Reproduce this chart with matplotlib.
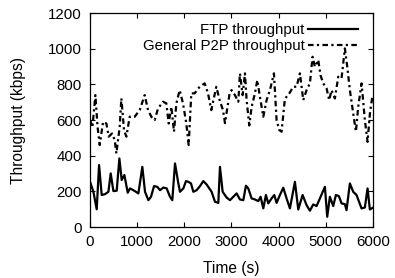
import numpy as np
import matplotlib
matplotlib.use('Agg')
import matplotlib.pyplot as plt

# FTP throughput (kbps) vs time (s)
ftp_t = [0, 71, 141, 191, 247, 318, 389, 438, 495, 565, 622, 671, 728, 799,
         848, 919, 1025, 1109, 1166, 1237, 1293, 1357, 1427, 1484, 1555, 1625,
         1696, 1745, 1802, 1873, 1908, 1979, 2035, 2085, 2141, 2191, 2261, 2332,
         2403, 2473, 2579, 2650, 2721, 2756, 2813, 2897, 2968, 3039, 3109, 3180,
         3251, 3307, 3357, 3427, 3498, 3569, 3618, 3675, 3731, 3781, 3851, 3908,
         3957, 4028, 4099, 4169, 4240, 4346, 4417, 4509, 4594, 4664, 4735, 4805,
         4876, 4982, 5031, 5088, 5159, 5215, 5279, 5336, 5406, 5441, 5512, 5583,
         5653, 5759, 5830, 5887, 5936, 5993]
ftp_v = [254, 198, 100, 348, 180, 185, 198, 301, 202, 204, 385, 264, 292, 193,
         217, 207, 189, 338, 198, 151, 170, 230, 226, 207, 222, 217,
         170, 151, 357, 245, 198, 217, 258, 254, 245, 198, 207, 230,
         258, 239, 198, 142, 136, 338, 198, 166, 151, 170, 189, 155,
         151, 232, 217, 161, 155, 146, 170, 105, 180, 133, 161, 180,
         136, 180, 221, 161, 105, 254, 99, 180, 123, 92, 127, 118,
         161, 226, 58, 170, 118, 180, 174, 133, 129, 95, 245, 198,
         180, 105, 110, 217, 99, 108]

# General P2P throughput (kbps) vs time (s)
p2p_t = [0, 50, 113, 160, 205, 276, 346, 396, 466, 523, 558, 629, 664, 721,
         770, 841, 947, 1053, 1159, 1230, 1300, 1371, 1442, 1548, 1618, 1668,
         1724, 1781, 1830, 1901, 1972, 2042, 2092, 2148, 2219, 2325, 2431, 2502,
         2572, 2678, 2749, 2820, 2862, 2961, 3003, 3074, 3145, 3180, 3237, 3286,
         3321, 3378, 3428, 3498, 3548, 3604, 3675, 3745, 3816, 3901, 3957, 4014,
         4063, 4134, 4205, 4311, 4381, 4452, 4523, 4593, 4664, 4720, 4770, 4841,
         4890, 4947, 5017, 5074, 5123, 5194, 5265, 5335, 5406, 5456, 5512, 5583,
         5640, 5689, 5760, 5830, 5887, 5937, 5993]
p2p_v = [600, 560, 740, 560, 460, 590, 581, 507, 525, 488, 413, 563, 722, 544,
         507, 619, 619, 656, 740, 656, 619, 600, 665, 703, 694, 581,
         675, 535, 693, 768, 693, 581, 460, 750, 750, 787, 806, 750,
         656, 787, 712, 656, 583, 750, 768, 740, 703, 862, 740, 862,
         712, 570, 675, 750, 824, 730, 619, 712, 768, 862, 600, 544,
         535, 721, 740, 787, 787, 862, 712, 768, 806, 955, 899, 937,
         850, 806, 778, 712, 768, 721, 843, 834, 1002, 900, 768, 637,
         535, 675, 806, 600, 478, 637, 740]

fs = 10.8
plt.rcParams["font.family"] = ['Liberation Sans', 'DejaVu Sans']
plt.rcParams["font.size"] = fs

fig = plt.figure(figsize=(3.95, 2.78), dpi=100)
ax = fig.add_axes([0.228, 0.183, 0.716, 0.770])

ftp, = ax.plot(ftp_t, ftp_v, 'k-', linewidth=1.6)
p2p, = ax.plot(p2p_t, p2p_v, color='black', linewidth=1.6,
               linestyle=(0, (2.5, 1.5, 1, 1.5)))

ax.set_xlim(0, 6000)
ax.set_ylim(0, 1200)
ax.set_xticks(np.arange(0, 6001, 1000))
ax.set_yticks(np.arange(0, 1201, 200))
ax.tick_params(direction='in', top=True, right=True, length=3.5, width=0.8,
               pad=6, colors='black', labelsize=fs)
for s in ax.spines.values():
    s.set_linewidth(0.9)

ax.set_xlabel('Time (s)', labelpad=8, fontsize=11.2)
ax.set_ylabel('Throughput (kbps)', labelpad=16, fontsize=11.2)

ax.legend((ftp, p2p), ('FTP throughput', 'General P2P throughput'),
          loc='upper right', bbox_to_anchor=(0.947, 0.952), frameon=False,
          markerfirst=False, handlelength=3.3, handletextpad=0.25,
          labelspacing=0.1, borderpad=0.0, borderaxespad=0.0, fontsize=fs)

fig.savefig('out.png', dpi=100)
